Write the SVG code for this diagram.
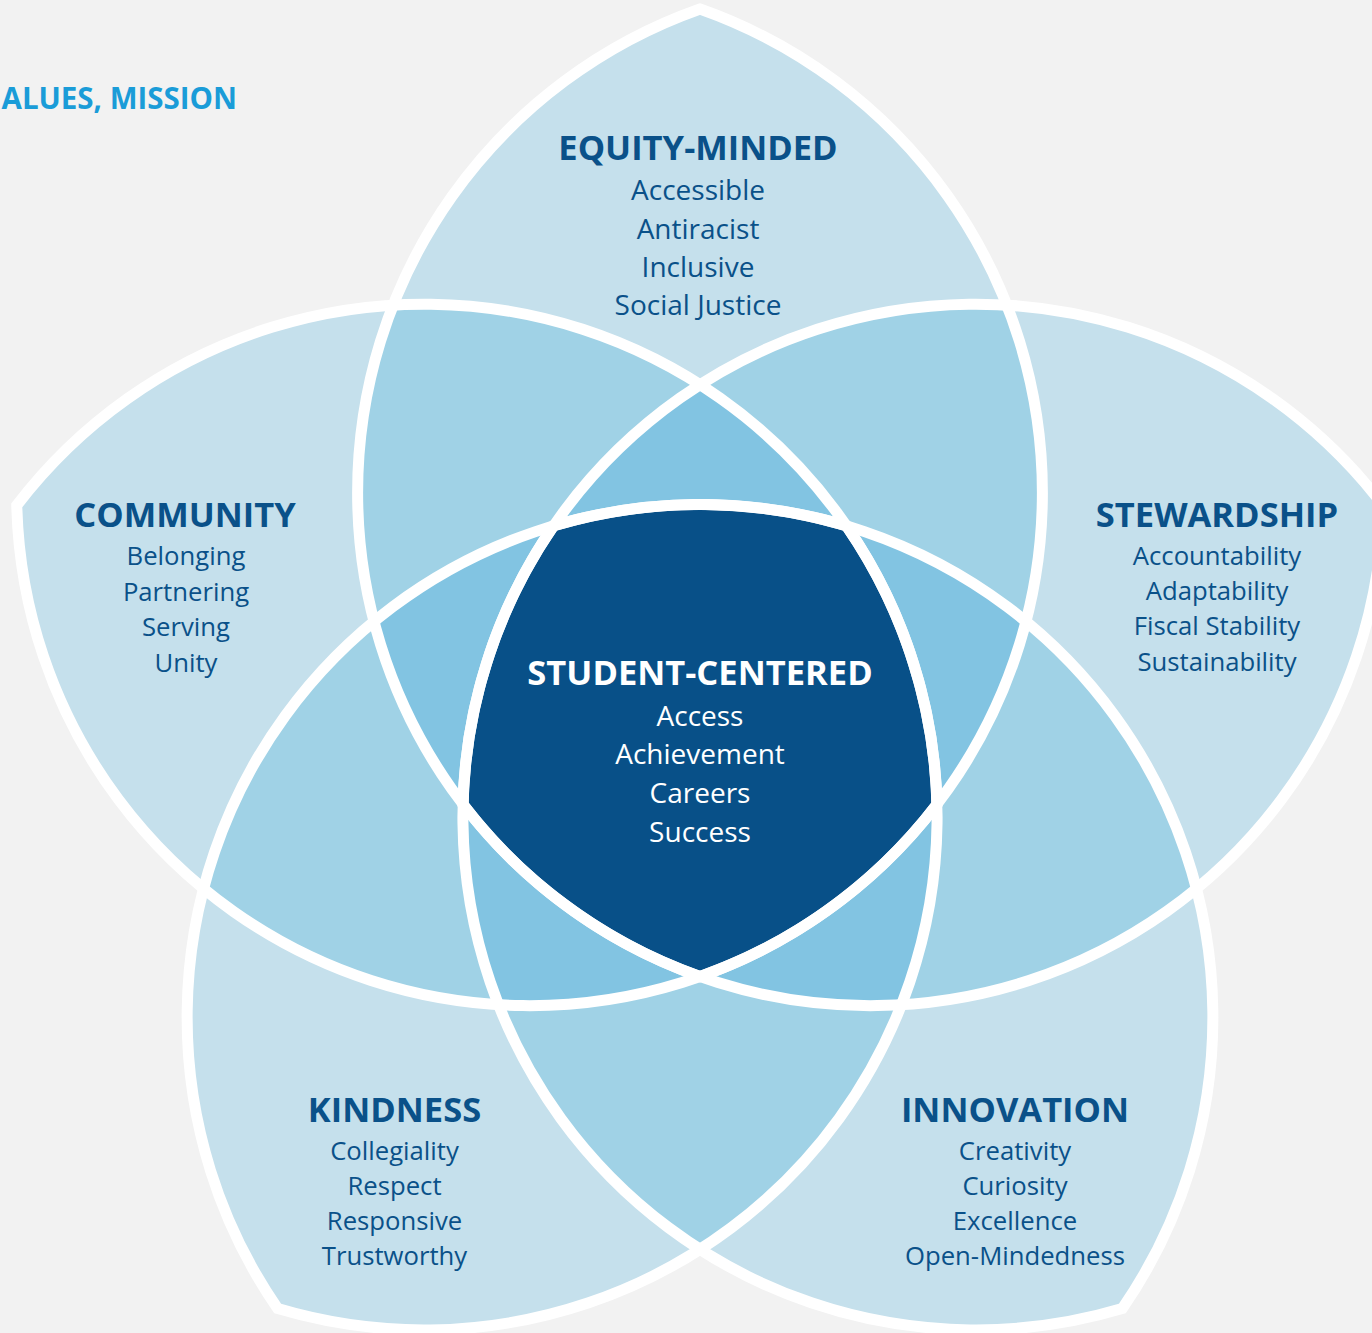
<svg xmlns="http://www.w3.org/2000/svg" xmlns:xlink="http://www.w3.org/1999/xlink" width="1372" height="1333" viewBox="0 0 1372 1333">
<style>
.h{font-family:"Open Sans","Noto Sans","Liberation Sans",sans-serif;font-weight:700;font-size:34.5px;fill:#0a5189;text-anchor:middle}
.b{font-family:"Open Sans","Noto Sans","Liberation Sans",sans-serif;font-size:28px;fill:#0a5189;text-anchor:middle}
.s{font-size:25.7px}
.w{fill:#ffffff}
.outline{fill:none;stroke:#ffffff;stroke-width:11}
.title{font-family:"Open Sans","Noto Sans","Liberation Sans",sans-serif;font-weight:700;font-size:29.5px;fill:#1a9cd8;text-anchor:end}
</style>
<defs>
<path id="petal" d="M700,9 A513,513 0 0 0 700,976.6 A513,513 0 0 0 700,9 Z"/>
<circle id="cA" cx="700" cy="1017.4" r="513"/>
<circle id="cB" cx="424.2" cy="817" r="513"/>
<circle id="cC" cx="529.5" cy="492.8" r="513"/>
<circle id="cD" cx="870.5" cy="492.8" r="513"/>
<circle id="cE" cx="975.8" cy="817" r="513"/>
<clipPath id="kA"><use xlink:href="#cA"/></clipPath>
<clipPath id="kB"><use xlink:href="#cB"/></clipPath>
<clipPath id="kC"><use xlink:href="#cC"/></clipPath>
<clipPath id="kD"><use xlink:href="#cD"/></clipPath>
<clipPath id="kE"><use xlink:href="#cE"/></clipPath>
</defs>
<rect x="0" y="0" width="1372" height="1333" fill="#f2f2f2"/>
<text class="title" x="237" y="109">ALUES, MISSION</text>
<g id="petal-fills" fill="#c5e0ec">
<use xlink:href="#petal"/>
<use xlink:href="#petal" transform="rotate(72 700 727.4)"/>
<use xlink:href="#petal" transform="rotate(144 700 727.4)"/>
<use xlink:href="#petal" transform="rotate(216 700 727.4)"/>
<use xlink:href="#petal" transform="rotate(288 700 727.4)"/>
</g>
<g id="overlap-3" fill="#a0d2e6">
<g clip-path="url(#kA)"><g clip-path="url(#kB)"><use xlink:href="#cC"/></g></g>
<g clip-path="url(#kA)"><g clip-path="url(#kB)"><use xlink:href="#cD"/></g></g>
<g clip-path="url(#kA)"><g clip-path="url(#kB)"><use xlink:href="#cE"/></g></g>
<g clip-path="url(#kA)"><g clip-path="url(#kC)"><use xlink:href="#cD"/></g></g>
<g clip-path="url(#kA)"><g clip-path="url(#kC)"><use xlink:href="#cE"/></g></g>
<g clip-path="url(#kA)"><g clip-path="url(#kD)"><use xlink:href="#cE"/></g></g>
<g clip-path="url(#kB)"><g clip-path="url(#kC)"><use xlink:href="#cD"/></g></g>
<g clip-path="url(#kB)"><g clip-path="url(#kC)"><use xlink:href="#cE"/></g></g>
<g clip-path="url(#kB)"><g clip-path="url(#kD)"><use xlink:href="#cE"/></g></g>
<g clip-path="url(#kC)"><g clip-path="url(#kD)"><use xlink:href="#cE"/></g></g>
</g>
<g id="overlap-4" fill="#82c4e2">
<g clip-path="url(#kA)"><g clip-path="url(#kB)"><g clip-path="url(#kC)"><use xlink:href="#cD"/></g></g></g>
<g clip-path="url(#kA)"><g clip-path="url(#kB)"><g clip-path="url(#kC)"><use xlink:href="#cE"/></g></g></g>
<g clip-path="url(#kA)"><g clip-path="url(#kB)"><g clip-path="url(#kD)"><use xlink:href="#cE"/></g></g></g>
<g clip-path="url(#kA)"><g clip-path="url(#kC)"><g clip-path="url(#kD)"><use xlink:href="#cE"/></g></g></g>
<g clip-path="url(#kB)"><g clip-path="url(#kC)"><g clip-path="url(#kD)"><use xlink:href="#cE"/></g></g></g>
</g>
<g id="node-student-centered">
<path fill="#085088" d="M553.5,525.8 A513,513 0 0 1 846.5,525.8 A513,513 0 0 1 937,804.4 A513,513 0 0 1 700,976.6 A513,513 0 0 1 463,804.4 A513,513 0 0 1 553.5,525.8 Z"/>
<text class="h w" x="700" y="685">STUDENT-CENTERED</text>
<text class="b w" x="700" y="726">Access</text>
<text class="b w" x="700" y="764">Achievement</text>
<text class="b w" x="700" y="803">Careers</text>
<text class="b w" x="700" y="842">Success</text>
</g>
<g id="node-equity-minded">
<use class="outline" xlink:href="#petal"/>
<text class="h" x="698" y="160">EQUITY-MINDED</text>
<text class="b" x="698" y="200">Accessible</text>
<text class="b" x="698" y="239">Antiracist</text>
<text class="b" x="698" y="277">Inclusive</text>
<text class="b" x="698" y="315">Social Justice</text>
</g>
<g id="node-stewardship">
<use class="outline" xlink:href="#petal" transform="rotate(72 700 727.4)"/>
<text class="h" x="1217" y="527">STEWARDSHIP</text>
<text class="b s" x="1217" y="565">Accountability</text>
<text class="b s" x="1217" y="600">Adaptability</text>
<text class="b s" x="1217" y="635">Fiscal Stability</text>
<text class="b s" x="1217" y="671">Sustainability</text>
</g>
<g id="node-innovation">
<use class="outline" xlink:href="#petal" transform="rotate(144 700 727.4)"/>
<text class="h" x="1015" y="1122">INNOVATION</text>
<text class="b s" x="1015" y="1160">Creativity</text>
<text class="b s" x="1015" y="1195">Curiosity</text>
<text class="b s" x="1015" y="1230">Excellence</text>
<text class="b s" x="1015" y="1265">Open-Mindedness</text>
</g>
<g id="node-kindness">
<use class="outline" xlink:href="#petal" transform="rotate(216 700 727.4)"/>
<text class="h" x="394.5" y="1122">KINDNESS</text>
<text class="b s" x="394.5" y="1160">Collegiality</text>
<text class="b s" x="394.5" y="1195">Respect</text>
<text class="b s" x="394.5" y="1230">Responsive</text>
<text class="b s" x="394.5" y="1265">Trustworthy</text>
</g>
<g id="node-community">
<use class="outline" xlink:href="#petal" transform="rotate(288 700 727.4)"/>
<text class="h" x="185" y="527">COMMUNITY</text>
<text class="b s" x="186" y="565">Belonging</text>
<text class="b s" x="186" y="601">Partnering</text>
<text class="b s" x="186" y="636">Serving</text>
<text class="b s" x="186" y="672">Unity</text>
</g>
<g id="connectors"/>
</svg>
